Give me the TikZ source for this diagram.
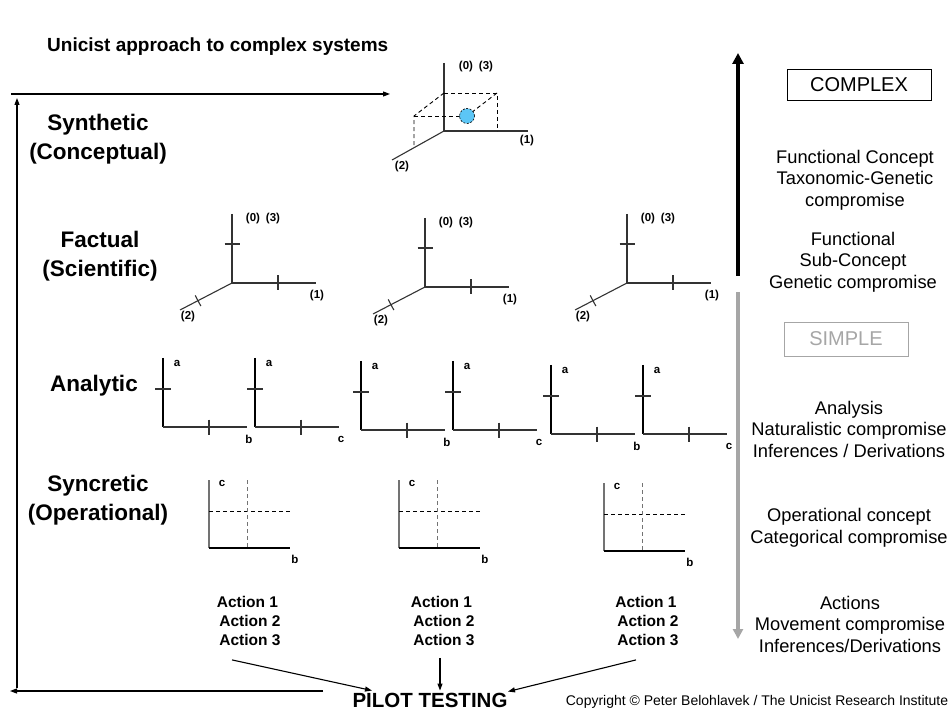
\documentclass[tikz,border=0pt]{standalone}
\usepackage{fontspec}
\setmainfont{Liberation Sans}
\usetikzlibrary{arrows.meta,calc}
\definecolor{ballblue}{HTML}{5CC6F6}
\definecolor{simplegray}{HTML}{A6A6A6}
\begin{document}
\begin{tikzpicture}[x=1pt,y=-1pt,
  ax/.style={draw=black!80,line width=1.1pt},
  dsh/.style={draw=black,line width=0.9pt,dash pattern=on 4pt off 3pt},
  lbl/.style={font=\fontsize{11.5}{13}\selectfont\bfseries,inner sep=0pt},
  rowlbl/.style={font=\fontsize{22.5}{28.5}\selectfont\bfseries,align=center,inner sep=0pt},
  rtxt/.style={font=\fontsize{18.3}{21.5}\selectfont,align=center,inner sep=0pt},
  acttxt/.style={font=\fontsize{15.5}{19}\selectfont\bfseries,align=center,inner sep=0pt},
  boxtxt/.style={line width=0.8pt,inner sep=0pt,font=\fontsize{20}{22}\selectfont},
  arr/.style={-{Triangle[length=7pt,width=5pt]},line width=1.1pt},
  factax/.pic={
    \draw[ax] (0,-69) -- (0,0) -- (84,0);
    \draw[ax] (0,0) -- (-52,27);
    \draw[ax] (-7.5,-39) -- (7.5,-39);
    \draw[ax] (46,-7.5) -- (46,7.5);
    \draw[ax] (-36.8,12.4) -- (-31.2,23);
    \node[lbl] (-z) at (31,-64) {(0)\hspace{6pt}(3)};
    \node[lbl] (-one) at (85,13) {(1)};
    \node[lbl] (-two) at (-44,34) {(2)};
  },
  anax/.pic={
    \draw[ax,draw=black] (0,-69) -- (0,0);
    \draw[ax] (0,0) -- (84,0);
    \draw[ax] (-8,-38) -- (8,-38);
    \draw[ax] (46,-7.5) -- (46,7.5);
    \node[lbl] (-a) at (14,-64) {a};
    \node[lbl] (-h) at (86,12) {#1};
  },
  syax/.pic={
    \draw[draw=black!55,line width=1.8pt] (0,-68) -- (0,0);
    \draw[line width=1.2pt] (0,0) -- (81,0);
    \draw[dsh] (0,-37) -- (81,-37);
    \draw[dsh,draw=black!55] (38,-68) -- (38,0);
    \node[lbl] (-c) at (13,-65) {c};
    \node[lbl] (-b) at (86,11) {b};
  }]
\useasboundingbox (0,0) rectangle (951,711);

% title
\node[anchor=west,inner sep=0pt,font=\fontsize{19}{23}\selectfont\bfseries] (title) at (47,47) {Unicist approach to complex systems};

% left frame arrows
\coordinate (bstart) at (323,691);
\coordinate (bend) at (10,691);
\coordinate (vbot) at (17,688);
\coordinate (vtop) at (17,98);
\coordinate (hstart) at (11,94);
\coordinate (hend) at (390,94);
\draw[arr] (bstart) -- (bend);
\draw[arr] (vbot) -- (vtop);
\draw[arr] (hstart) -- (hend);

% row labels
\node[rowlbl] (synl) at (98,139) {Synthetic\\(Conceptual)};
\node[rowlbl] (facl) at (100,256) {Factual\\(Scientific)};
\node[rowlbl] (anal) at (94,386) {Analytic};
\node[rowlbl] (syncl) at (98,500) {Syncretic\\(Operational)};

% synthetic 3D diagram
\begin{scope}[shift={(444,131)}]
  \draw[ax] (0,-68) -- (0,0) -- (84,0);
  \draw[ax] (0,0) -- (-52,29);
  \draw[dsh] (0,-38) -- (53,-38) -- (53,0);
  \draw[dsh] (0,-38) -- (-30,-15) -- (-30,16.7);
  \draw[dsh] (-30,-15) -- (23,-15);
  \draw[dsh] (53,-38) -- (23,-15);
  \node[circle,fill=ballblue,draw=black,dash pattern=on 2pt off 1.5pt,line width=0.6pt,minimum size=15pt,inner sep=0pt] (ball) at (23,-15) {};
  \node[lbl] (s0) at (32,-64) {(0)\hspace{6pt}(3)};
  \node[lbl] (s1) at (83,10) {(1)};
  \node[lbl] (s2) at (-42,36) {(2)};
\end{scope}

% factual diagrams
\pic (f1) at (232,283) {factax};
\pic (f2) at (425,287) {factax};
\pic (f3) at (627,283) {factax};

% analytic diagrams
\pic (a1) at (163,427) {anax=b};
\pic (a2) at (255,427) {anax=c};
\pic (a3) at (361,430) {anax=b};
\pic (a4) at (453,430) {anax=c};
\pic (a5) at (551,434) {anax=b};
\pic (a6) at (643,434) {anax=c};

% syncretic diagrams
\pic (y1) at (209,548) {syax};
\pic (y2) at (399,548) {syax};
\pic (y3) at (604,551) {syax};

% actions
\node[acttxt] (act1) at (250,621) {Action 1\kern5pt\\Action 2\\Action 3};
\node[acttxt] (act2) at (444,621) {Action 1\kern5pt\\Action 2\\Action 3};
\node[acttxt] (act3) at (648,621) {Action 1\kern4pt\\Action 2\\Action 3};

\node[inner sep=0pt,font=\fontsize{20.5}{24}\selectfont\bfseries] (pilot) at (430,700) {PILOT TESTING};
\node[inner sep=0pt,font=\fontsize{14}{16}\selectfont] (copy) at (757,702) {Copyright \textcopyright{} Peter Belohlavek / The Unicist Research Institute};

\draw[arr] ([xshift=-18pt,yshift=-14pt]act1.south) -- ([xshift=-58pt,yshift=2pt]pilot.north);
\draw[arr] ([xshift=-4pt,yshift=-12pt]act2.south) -- ([xshift=10pt,yshift=2pt]pilot.north);
\draw[arr] ([xshift=-12pt,yshift=-14pt]act3.south) -- ([xshift=78pt,yshift=1pt]pilot.north);

% right side
\coordinate (kbot) at (738,276);
\coordinate (ktop) at (738,53);
\coordinate (gtop) at (738,292);
\coordinate (gbot) at (738,639);
\draw[line width=4pt,-{Triangle[length=11pt,width=11pt]}] (kbot) -- (ktop);
\draw[line width=3.5pt,draw=simplegray,-{Triangle[length=10pt,width=10pt]}] (gtop) -- (gbot);

\node[draw=black,boxtxt,minimum width=144pt,minimum height=31pt] (complex) at (859,85) {COMPLEX};
\node[draw=simplegray,boxtxt,text=simplegray,minimum width=124pt,minimum height=34pt] (simple) at (846,339) {SIMPLE};

\node[rtxt] (r1) at (855,180) {Functional Concept\\Taxonomic-Genetic\\compromise};
\node[rtxt] (r2) at (853,262) {Functional\\Sub-Concept\\Genetic compromise};
\node[rtxt] (r3) at (849,429) {Analysis\\Naturalistic compromise\\Inferences / Derivations};
\node[rtxt] (r4) at (849,528) {Operational concept\\Categorical compromise};
\node[rtxt] (r5) at (850,624) {Actions\\Movement compromise\\Inferences/Derivations};
\end{tikzpicture}
\end{document}
